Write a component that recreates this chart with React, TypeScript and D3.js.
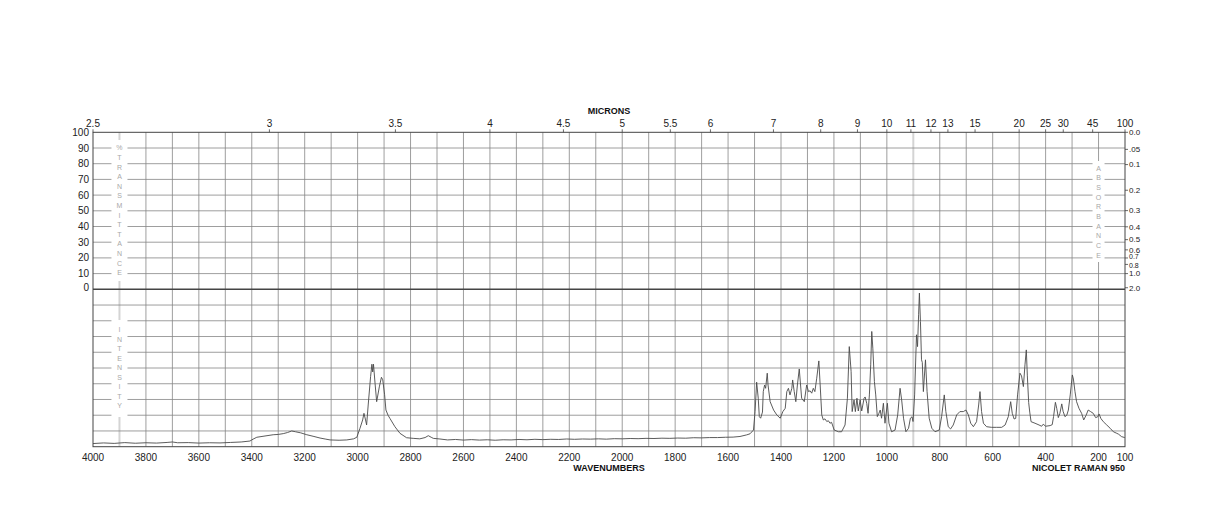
import React from "react";
import * as d3 from "d3";

// ---------- data ----------
const WAVENUMBERS = [
  4000, 3960, 3920, 3880, 3840, 3800, 3760, 3720, 3700, 3680, 3640, 3600, 3560, 3520, 3480, 3440,
  3407, 3395, 3381, 3350, 3319, 3300, 3281, 3265, 3249, 3235, 3215, 3192, 3165, 3142, 3120, 3104,
  3070, 3041, 3015, 3003, 2991, 2981, 2976, 2970, 2966, 2960, 2951, 2946, 2943, 2940, 2934, 2928,
  2918, 2910, 2905, 2898, 2893, 2885, 2878, 2859, 2840, 2815, 2790, 2765, 2745, 2733, 2722, 2714,
  2689, 2660, 2630, 2600, 2570, 2540, 2510, 2480, 2450, 2420, 2390, 2360, 2330, 2300, 2270, 2240,
  2210, 2180, 2150, 2120, 2090, 2060, 2030, 2000, 1970, 1940, 1910, 1880, 1850, 1820, 1790, 1760,
  1730, 1700, 1670, 1640, 1610, 1581, 1555, 1530, 1517, 1504, 1498, 1492, 1486, 1482, 1477, 1470,
  1467, 1462, 1458, 1452, 1449, 1441, 1428, 1416, 1403, 1393, 1384, 1378, 1372, 1366, 1359, 1356,
  1350, 1344, 1338, 1331, 1322, 1312, 1303, 1296, 1290, 1284, 1278, 1272, 1265, 1257, 1252, 1246,
  1240, 1234, 1227, 1221, 1215, 1209, 1199, 1183, 1171, 1158, 1149, 1142, 1135, 1131, 1124, 1119,
  1113, 1108, 1101, 1095, 1086, 1082, 1076, 1071, 1066, 1061, 1057, 1053, 1047, 1042, 1036, 1030,
  1025, 1020, 1013, 1007, 998, 992, 982, 969, 959, 950, 944, 937, 928, 918, 911, 905,
  901, 895, 888, 884, 880, 877, 873, 869, 866, 862, 854, 848, 840, 830, 818, 802,
  793, 783, 777, 768, 759, 749, 736, 724, 711, 701, 692, 683, 673, 661, 653, 648,
  642, 635, 623, 604, 585, 566, 553, 541, 532, 526, 519, 513, 506, 497, 491, 484,
  478, 473, 469, 464, 460, 455, 440, 425, 415, 409, 400, 383, 375, 370, 363, 358,
  352, 346, 339, 334, 327, 320, 314, 307, 299, 295, 289, 283, 274, 264, 256, 247,
  239, 230, 220, 211, 203, 198, 191, 182, 169, 156, 144, 131, 124, 113, 101,
];

const INTENSITY = [
  2.0, 2.4, 2.1, 2.6, 2.2, 2.5, 2.3, 2.7, 3.0, 2.5, 2.6, 2.3, 2.5, 2.4, 2.7, 3.0,
  3.6, 4.8, 6.0, 6.8, 7.6, 7.8, 8.3, 9.0, 10.0, 9.5, 8.8, 7.6, 6.5, 5.5, 4.8, 4.3,
  4.1, 4.3, 5.0, 6.0, 11.7, 17.0, 21.2, 17.0, 13.8, 26.5, 44.5, 52.4, 47.5, 52.4, 40.0, 28.6,
  38.0, 44.1, 42.5, 33.0, 23.3, 20.0, 18.0, 12.7, 8.5, 5.7, 5.3, 5.0, 5.8, 7.0, 6.0, 5.3,
  4.9, 4.3, 4.6, 4.2, 4.5, 4.2, 4.4, 4.1, 4.4, 4.3, 4.6, 4.4, 4.7, 4.5, 4.7, 4.6,
  4.9, 4.7, 4.9, 4.8, 5.0, 4.8, 5.1, 5.0, 5.2, 5.1, 5.3, 5.2, 5.4, 5.3, 5.5, 5.4,
  5.7, 5.6, 5.8, 5.8, 6.0, 6.1, 6.5, 7.5, 8.2, 10.6, 22.3, 41.0, 30.8, 19.1, 18.1, 22.0,
  35.0, 39.2, 37.1, 46.7, 39.2, 28.6, 23.3, 20.2, 18.1, 22.3, 24.4, 35.0, 37.1, 32.9, 37.1, 42.4,
  35.0, 28.6, 39.2, 49.4, 30.8, 28.6, 39.2, 35.0, 35.5, 34.0, 37.1, 35.0, 43.5, 54.5, 39.2, 20.2,
  17.0, 17.7, 16.0, 16.5, 14.9, 15.5, 10.6, 9.5, 9.5, 13.8, 30.8, 63.6, 47.7, 22.3, 29.7, 22.3,
  30.8, 22.7, 29.7, 22.7, 30.8, 31.6, 27.5, 21.2, 32.9, 52.0, 73.2, 62.6, 41.3, 32.9, 19.1, 21.2,
  23.3, 18.1, 27.6, 14.9, 27.6, 14.9, 9.5, 10.6, 20.2, 37.1, 29.7, 18.1, 9.5, 11.7, 18.1, 19.0,
  16.0, 32.9, 71.1, 63.6, 83.8, 97.6, 79.5, 55.2, 53.5, 35.0, 55.2, 35.0, 18.1, 11.7, 9.5, 10.6,
  19.1, 32.9, 22.3, 12.7, 11.3, 13.8, 20.2, 22.3, 22.3, 23.3, 20.2, 14.9, 12.7, 15.9, 26.5, 35.0,
  22.3, 14.9, 12.7, 12.3, 12.3, 12.3, 13.8, 19.1, 28.6, 21.2, 17.6, 18.0, 32.9, 46.7, 45.0, 38.2,
  52.0, 61.5, 45.0, 28.0, 22.0, 15.9, 14.9, 13.8, 13.0, 14.3, 13.0, 13.4, 14.0, 19.1, 28.2, 24.4,
  18.5, 21.2, 27.2, 22.5, 19.1, 20.0, 23.3, 32.9, 45.6, 43.0, 35.0, 28.6, 24.4, 21.2, 17.0, 20.0,
  23.3, 22.3, 21.2, 18.5, 19.0, 20.8, 17.9, 15.9, 13.8, 11.7, 9.5, 8.5, 7.9, 6.4, 5.8,
];

const WN_TICKS = [4000, 3800, 3600, 3400, 3200, 3000, 2800, 2600, 2400, 2200, 2000, 1800, 1600, 1400, 1200, 1000, 800, 600, 400, 200, 100];
const MICRON_TICKS = [2.5, 3, 3.5, 4, 4.5, 5, 5.5, 6, 7, 8, 9, 10, 11, 12, 13, 15, 20, 25, 30, 45, 100];
const MICRON_LABELS = ["2.5", "3", "3.5", "4", "4.5", "5", "5.5", "6", "7", "8", "9", "10", "11", "12", "13", "15", "20", "25", "30", "45", "100"];
const T_TICKS = [100, 90, 80, 70, 60, 50, 40, 30, 20, 10, 0];
const ABS_VALUES = [0, 0.05, 0.1, 0.2, 0.3, 0.4, 0.5, 0.6, 0.7, 0.8, 1.0, 2.0];
const ABS_LABELS = ["0.0", ".05", "0.1", "0.2", "0.3", "0.4", "0.5", "0.6", "0.7", "0.8", "1.0", "2.0"];
const INT_GRID = [10, 20, 30, 40, 50, 60, 70, 80, 90];

// ---------- layout ----------
const W = 1224;
const H = 528;
const LEFT = 93;
const RIGHT = 1125;
const TOP = 132.3;
const MID = 289.3;
const BOTTOM = 446.7;
const FONT = "'Liberation Sans', Arial, Helvetica, sans-serif";

export default function App() {
  const x = d3.scaleLinear().domain([4000, 100]).range([LEFT, RIGHT]);
  const yT = d3.scaleLinear().domain([0, 100]).range([MID, TOP]);
  const yI = d3.scaleLinear().domain([0, 100]).range([BOTTOM, MID]);

  const pts: [number, number][] = WAVENUMBERS.map((w, i) => [w, INTENSITY[i]]);
  const line = d3
    .line<[number, number]>()
    .x((d) => x(d[0]))
    .y((d) => yI(d[1]))
    .curve(d3.curveLinear);

  const vGrid = d3.range(3900, 100, -100);
  const gridColor = "#858585";
  const lightCol = "#d4d4d4";

  const TRANS = "%TRANSMITTANCE".split("");
  const INTEN = "INTENSITY".split("");
  const ABSO = "ABSORBANCE".split("");

  const colX = x(3900);
  const absX = x(200);

  // nudge the two crowded absorbance labels apart a little
  const absNudge = (lbl: string) => (lbl === "0.7" ? -1.6 : lbl === "0.8" ? 1.6 : 0);

  return (
    <svg
      width={W}
      height={H}
      style={{ position: "absolute", left: 0, top: 0, background: "#fff" }}
      fontFamily={FONT}
    >
      <rect x={0} y={0} width={W} height={H} fill="#fff" />
      {/* vertical grid */}
      {vGrid.map((w) => {
        const special = w === 3900 || w === 900;
        return (
          <line
            key={"v" + w}
            x1={x(w)}
            x2={x(w)}
            y1={TOP}
            y2={BOTTOM}
            stroke={special ? lightCol : gridColor}
            strokeWidth={special ? 2 : 0.8}
          />
        );
      })}
      {/* horizontal grid */}
      {T_TICKS.filter((t) => t !== 100 && t !== 0).map((t) => (
        <line key={"ht" + t} x1={LEFT} x2={RIGHT} y1={yT(t)} y2={yT(t)} stroke={gridColor} strokeWidth={0.8} />
      ))}
      {INT_GRID.map((t) => (
        <line key={"hi" + t} x1={LEFT} x2={RIGHT} y1={yI(t)} y2={yI(t)} stroke={gridColor} strokeWidth={0.8} />
      ))}

      {/* label column boxes */}
      <rect x={colX - 8} y={140} width={16} height={141} fill="#fff" />
      <rect x={colX - 8} y={320} width={16} height={97} fill="#fff" />
      <rect x={absX - 6} y={161} width={12} height={101} fill="#fff" />
      {TRANS.map((c, i) => (
        <text key={"tr" + i} x={colX} y={148 + i * 9.6} dy="0.35em" textAnchor="middle" fontSize={7} fill="#a8a8a8">
          {c}
        </text>
      ))}
      {INTEN.map((c, i) => (
        <text key={"in" + i} x={colX} y={330 + i * 9.5} dy="0.35em" textAnchor="middle" fontSize={7} fill="#a8a8a8">
          {c}
        </text>
      ))}
      {ABSO.map((c, i) => (
        <text key={"ab" + i} x={absX} y={168.3 + i * 9.67} dy="0.35em" textAnchor="middle" fontSize={7} fill="#a8a8a8">
          {c}
        </text>
      ))}

      {/* frame */}
      <rect x={LEFT} y={TOP} width={RIGHT - LEFT} height={BOTTOM - TOP} fill="none" stroke="#444" strokeWidth={1} />
      <line x1={LEFT} x2={RIGHT} y1={MID} y2={MID} stroke="#444" strokeWidth={1.6} />

      {/* spectrum */}
      <path d={line(pts) || ""} fill="none" stroke="#4a4a4a" strokeWidth={0.9} strokeLinejoin="round" />

      {/* top micron axis */}
      {MICRON_TICKS.map((m, i) => {
        const px = x(10000 / m);
        return (
          <g key={"m" + m}>
            <line x1={px} x2={px} y1={TOP - 3} y2={TOP} stroke="#444" strokeWidth={0.8} />
            <text x={px} y={126.5} textAnchor="middle" fontSize={10} fill="#222">
              {MICRON_LABELS[i]}
            </text>
          </g>
        );
      })}
      <text x={609} y={114} textAnchor="middle" fontSize={9} fontWeight="bold" fill="#111">
        MICRONS
      </text>

      {/* left %T labels */}
      {T_TICKS.map((t) => (
        <text key={"tl" + t} x={89} y={t === 0 ? yT(t) - 1.5 : yT(t)} dy="0.35em" textAnchor="end" fontSize={10} fill="#222">
          {t}
        </text>
      ))}

      {/* right absorbance labels */}
      {ABS_VALUES.map((a, i) => {
        const py = yT(100 * Math.pow(10, -a));
        const lbl = ABS_LABELS[i];
        const crowded = lbl === "0.7" || lbl === "0.8";
        return (
          <g key={"a" + i}>
            <line x1={RIGHT} x2={RIGHT + 3} y1={py} y2={py} stroke="#444" strokeWidth={0.8} />
            <text x={RIGHT + 4} y={py + absNudge(lbl)} dy="0.35em" fontSize={crowded ? 7 : 8} fill="#222">
              {lbl}
            </text>
          </g>
        );
      })}

      {/* bottom wavenumber axis */}
      {WN_TICKS.map((w) => (
        <text key={"w" + w} x={x(w)} y={461} textAnchor="middle" fontSize={10} fill="#222">
          {w}
        </text>
      ))}
      <text x={609} y={471} textAnchor="middle" fontSize={9} fontWeight="bold" fill="#111">
        WAVENUMBERS
      </text>
      <text x={RIGHT} y={471} textAnchor="end" fontSize={9} fontWeight="bold" fill="#111">
        NICOLET RAMAN 950
      </text>
    </svg>
  );
}
